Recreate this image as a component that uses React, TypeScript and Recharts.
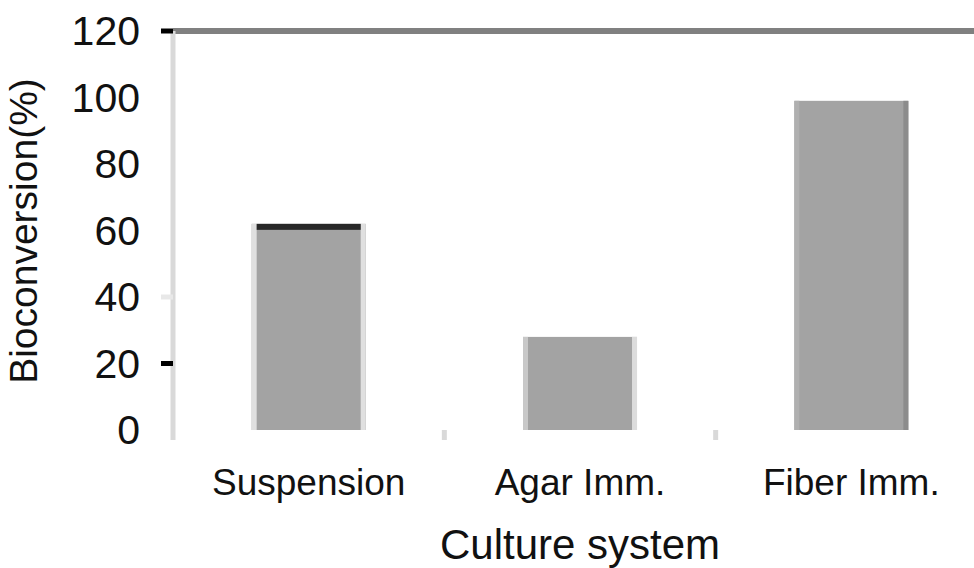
import { BarChart, Bar, XAxis, YAxis, ReferenceLine, Label } from "recharts";

const CATEGORIES = ["Suspension", "Agar Imm.", "Fiber Imm."];
const BIOCONVERSION = [62, 28, 99];
const Y_TICKS = [0, 20, 40, 60, 80, 100, 120];

const DATA = CATEGORIES.map((name, i) => ({ name, value: BIOCONVERSION[i] }));

const FONT = "'Liberation Sans', Arial, sans-serif";
const BAR_FILL = "#a3a3a3";
// left edge, right edge, top cap per bar (the original has odd shaded edges)
const BAR_LOOK = [
  { left: "#e0e0e0", right: "#e0e0e0", cap: "#282828" },
  { left: "#c8c8c8", right: "#dcdcdc", cap: null },
  { left: "#b0b0b0", right: "#8c8c8c", cap: null },
];
// only some y ticks show a mark in the source image
const Y_MARKS: Record<number, string> = { 120: "#000", 20: "#000", 40: "#e8e8e8" };

function BarShape(props: any) {
  const { x, y, width, height, index } = props;
  const look = BAR_LOOK[index] ?? BAR_LOOK[0];
  return (
    <g>
      <rect x={x} y={y} width={width} height={height} fill={BAR_FILL} />
      <rect x={x} y={y} width={5} height={height} fill={look.left} />
      <rect x={x + width - 5} y={y} width={5} height={height} fill={look.right} />
      {look.cap && <rect x={x + 5} y={y} width={width - 10} height={6} fill={look.cap} />}
    </g>
  );
}

function XTick(props: any) {
  const { x, y, payload } = props;
  const off = payload?.offset ?? 0;
  return (
    <g>
      <line x1={x - off} x2={x - off} y1={y} y2={y + 10} stroke="#d9d9d9" strokeWidth={5} />
      <text x={x} y={y + 65} textAnchor="middle" fontFamily={FONT} fontSize={37} fill="#111">
        {payload.value}
      </text>
    </g>
  );
}

function YTick(props: any) {
  const { x, y, payload } = props;
  const mark = Y_MARKS[payload.value];
  return (
    <g>
      {mark && <line x1={x + 21} x2={x + 33} y1={y} y2={y} stroke={mark} strokeWidth={5} />}
      <text x={x} y={y} textAnchor="end" dominantBaseline="central" fontFamily={FONT} fontSize={41} fill="#111">
        {payload.value}
      </text>
    </g>
  );
}

export default function App() {
  return (
    <div style={{ position: "absolute", left: 0, top: 0, width: 974, height: 568, overflow: "hidden", background: "#fff" }}>
      <BarChart width={1000} height={568} data={DATA} margin={{ top: 31, right: 13, bottom: 0, left: 0 }} barCategoryGap="29%">
        <XAxis
          dataKey="name"
          axisLine={false}
          tickLine={false}
          tickSize={0}
          tickMargin={0}
          height={138}
          tick={<XTick />}
          interval={0}
        >
          <Label
            content={() => (
              <text x={580} y={559} textAnchor="middle" fontFamily={FONT} fontSize={42} fill="#111">
                Culture system
              </text>
            )}
          />
        </XAxis>
        <YAxis
          type="number"
          domain={[0, 120]}
          ticks={Y_TICKS}
          width={173}
          axisLine={{ stroke: "#d9d9d9", strokeWidth: 5 }}
          tickLine={false}
          tickSize={12}
          tickMargin={21}
          tick={<YTick />}
          interval={0}
        >
          <Label
            content={() => (
              <text
                x={23}
                y={231}
                textAnchor="middle"
                dominantBaseline="central"
                fontFamily={FONT}
                fontSize={39}
                fill="#111"
                transform="rotate(-90, 23, 231)"
              >
                Bioconversion(%)
              </text>
            )}
          />
        </YAxis>
        <ReferenceLine y={120} stroke="#808080" strokeWidth={6} />
        <Bar dataKey="value" shape={<BarShape />} isAnimationActive={false} />
      </BarChart>
    </div>
  );
}
